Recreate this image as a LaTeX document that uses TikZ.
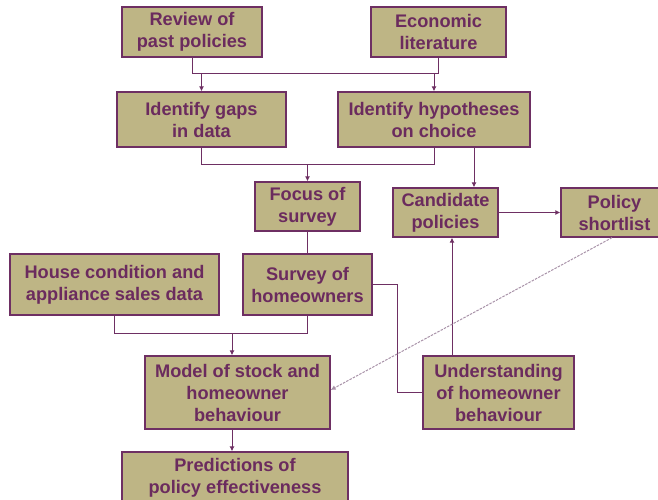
\documentclass[tikz,border=0pt]{standalone}
\usepackage{fontspec}
\setmainfont{Liberation Sans}
\usetikzlibrary{arrows.meta}
\definecolor{boxfill}{HTML}{BEB585}
\definecolor{boxline}{HTML}{6E2F63}
\definecolor{boxtext}{HTML}{6B2B5E}
\definecolor{dashcol}{HTML}{A892A8}
\tikzset{
  box/.style={draw=boxline, fill=boxfill, line width=1.3pt, text=boxtext,
    align=center, inner sep=0pt,
    font=\fontsize{18.2}{22}\selectfont\bfseries},
  conn/.style={draw=boxline, line width=1pt},
  arr/.style={conn, -{Latex[length=5pt,width=5pt]}},
  darr/.style={draw=dashcol, line width=1pt, dash pattern=on 2.5pt off 1.2pt,
    -{Latex[length=5pt,width=5pt]}}
}
\begin{document}
\begin{tikzpicture}[x=1pt,y=-1pt]
\useasboundingbox (0,0) rectangle (658,500);
\begin{scope}
\clip (0,0) rectangle (658,500);
\node[box, minimum width=140pt, minimum height=50pt] (review) at (192,32) {Review of\\past policies};
\node[box, minimum width=135pt, minimum height=50pt] (econ) at (438.5,32) {Economic\\literature};
\node[box, minimum width=169pt, minimum height=55pt] (gaps) at (201.5,119.5) {Identify gaps\\in data};
\node[box, minimum width=192pt, minimum height=55pt] (hyp) at (434,119.5) {Identify hypotheses\\on choice};
\node[box, minimum width=105pt, minimum height=49pt] (focus) at (307.5,206.5) {Focus of\\survey};
\node[box, minimum width=105pt, minimum height=49pt] (cand) at (445.5,212.5) {Candidate\\policies};
\node[box, minimum width=107pt, minimum height=49pt] (policy) at (614.5,212.5) {Policy\\shortlist};
\node[box, minimum width=209pt, minimum height=61pt] (house) at (114.5,284.5) {House condition and\\appliance sales data};
\node[box, minimum width=129pt, minimum height=61pt] (survey) at (307.5,284.5) {Survey of\\homeowners};
\node[box, minimum width=185pt, minimum height=73pt] (model) at (237.5,392.5) {Model of stock and\\homeowner\\behaviour};
\node[box, minimum width=151pt, minimum height=73pt] (und) at (498.5,392.5) {Understanding\\of homeowner\\behaviour};
\node[box, minimum width=226pt, minimum height=51pt] (pred) at (235,477.5) {Predictions of\\policy effectiveness};
\end{scope}
\coordinate (t1) at (0,74);
\coordinate (t2) at (0,164);
\coordinate (t3) at (0,333);
\coordinate (xa) at (232,0);
\coordinate (xb) at (452,0);
\coordinate (xc) at (474,0);
\coordinate (xd) at (612,0);
% top joins
\draw[conn] (review.south) |- (t1 -| econ.south) -- (econ.south);
\draw[arr] (gaps.north |- t1) -- (gaps.north);
\draw[arr] (hyp.north |- t1) -- (hyp.north);
% second joins
\draw[conn] (gaps.south) |- (t2 -| hyp.south) -- (hyp.south);
\draw[arr] (focus.north |- t2) -- (focus.north);
\draw[arr] (hyp.south -| xc) -- (cand.north -| xc);
\draw[arr] (cand.east) -- (policy.west);
% survey
\draw[conn] (focus.south) -- (survey.north);
\draw[conn] (house.south) |- (t3 -| survey.south) -- (survey.south);
\draw[arr] (t3 -| xa) -- (model.north -| xa);
\draw[conn] (survey.east) -- ++(25,0) |- (und.west);
\draw[arr] (und.north -| xb) -- (cand.south -| xb);
\draw[arr] (model.south -| xa) -- (pred.north -| xa);
\draw[darr] (policy.south -| xd) -- ([yshift=2.5pt]model.east);
\end{tikzpicture}
\end{document}
